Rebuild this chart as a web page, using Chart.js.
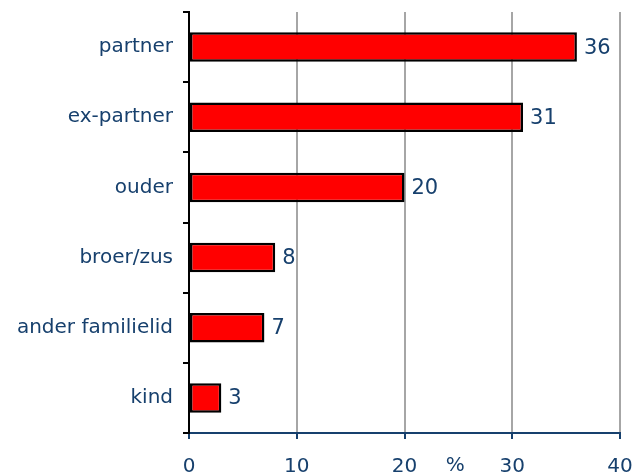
<!DOCTYPE html>
<html lang="nl">
<head>
<meta charset="UTF-8">
<title>Relatie tot dader</title>
<script src="https://cdn.jsdelivr.net/npm/chart.js"></script>
<style>
  html, body { margin: 0; padding: 0; background: #fff; }
  #wrap { width: 644px; height: 474px; }
</style>
</head>
<body>
<div id="wrap"><canvas id="barChart" width="644" height="474"></canvas></div>
<script>
var categories = ["partner", "ex-partner", "ouder", "broer/zus", "ander familielid", "kind"];
var values = [36, 31, 20, 8, 7, 3];
var xTicks = [0, 10, 20, 30, 40];
var unitLabel = "%";

var textColor = "#17406D";
var fontFamily = "'DejaVu Sans', Verdana, sans-serif";

// labels achter de balken + het %-teken onder de as
var labelPlugin = {
    id: "barLabels",
    afterDatasetsDraw: function(chart) {
        var ctx = chart.ctx;
        var meta = chart.getDatasetMeta(0);
        ctx.save();
        ctx.fillStyle = textColor;
        ctx.font = "21px " + fontFamily;
        ctx.textBaseline = "middle";
        ctx.textAlign = "left";
        meta.data.forEach(function(bar, i) {
            ctx.fillText(values[i], bar.x + 7, bar.y + 1);
        });
        var xs = chart.scales.x;
        ctx.textAlign = "center";
        ctx.font = "20px " + fontFamily;
        ctx.fillText(unitLabel, xs.getPixelForValue(24.7), 466);
        ctx.restore();
    }
};

var ctx = document.getElementById("barChart").getContext("2d");
var chart = new Chart(ctx, {
    type: "bar",
    data: {
        labels: categories,
        datasets: [{
            data: values,
            backgroundColor: "#FF0000",
            borderColor: "#000000",
            borderWidth: 2.5,
            borderSkipped: false,
            categoryPercentage: 1.0,
            barPercentage: 0.42
        }]
    },
    options: {
        indexAxis: "y",
        responsive: false,
        animation: false,
        layout: { padding: { top: 12, right: 24, left: 0, bottom: 0 } },
        plugins: {
            legend: { display: false },
            tooltip: { enabled: false }
        },
        scales: {
            x: {
                min: 0,
                max: 40,
                afterBuildTicks: function(axis) {
                    axis.ticks = xTicks.map(function(v) { return { value: v }; });
                },
                afterFit: function(axis) {
                    axis.height = 41;
                    axis.paddingLeft = 0;
                    axis.paddingRight = 0;
                },
                border: { color: textColor, width: 2 },
                grid: {
                    color: function(c) { return c.tick && c.tick.value === 0 ? "rgba(0,0,0,0)" : "#A6A6A6"; },
                    lineWidth: 2,
                    tickColor: textColor,
                    tickLength: 6
                },
                ticks: {
                    color: textColor,
                    font: { family: fontFamily, size: 20 },
                    padding: 16,
                    maxRotation: 0
                }
            },
            y: {
                afterFit: function(axis) {
                    axis.width = 189;
                    axis.paddingTop = 0;
                    axis.paddingBottom = 0;
                },
                border: { color: "#000000", width: 2 },
                grid: {
                    drawOnChartArea: false,
                    offset: true,
                    color: "#000000",
                    tickColor: "#000000",
                    lineWidth: 2,
                    tickLength: 6
                },
                ticks: {
                    color: textColor,
                    font: { family: fontFamily, size: 20 },
                    padding: 10
                }
            }
        }
    },
    plugins: [labelPlugin]
});
</script>
</body>
</html>
